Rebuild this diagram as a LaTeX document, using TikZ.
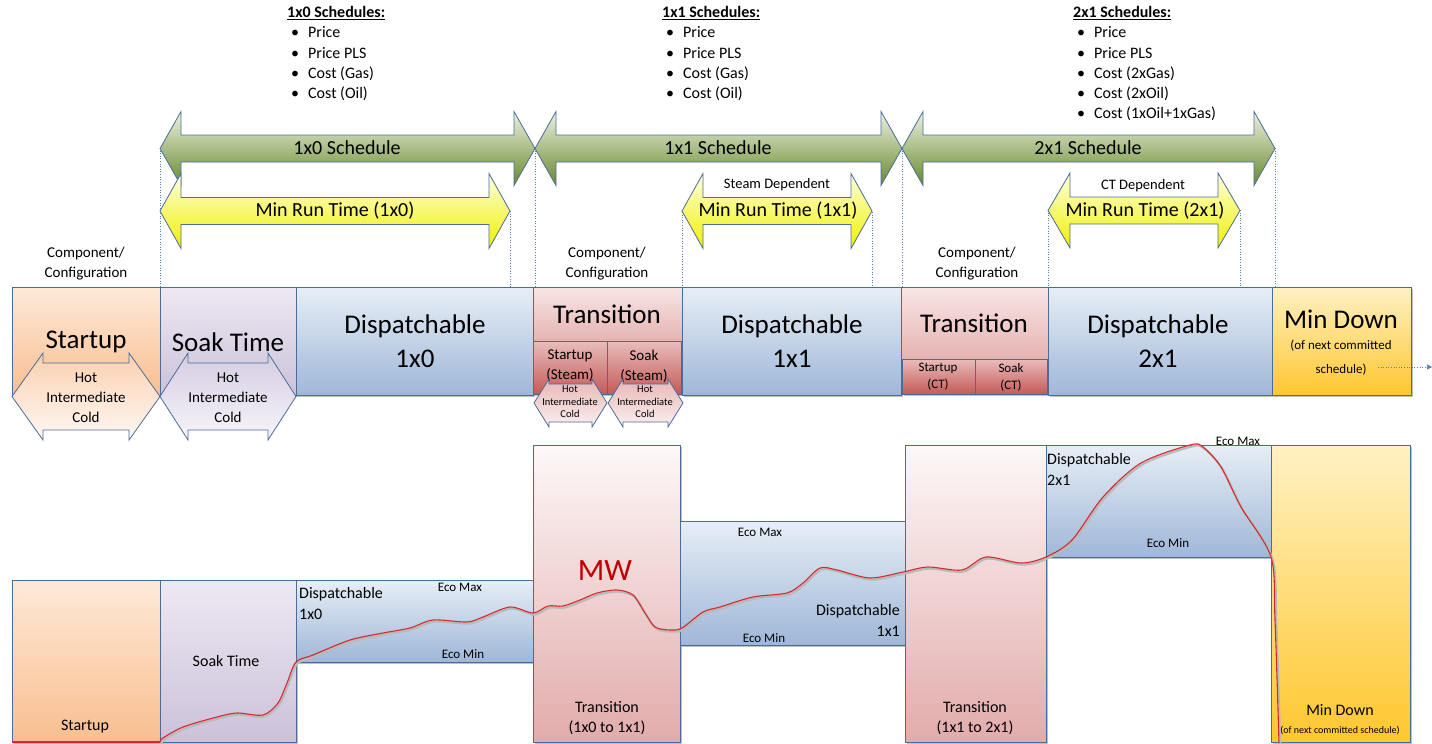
\documentclass[tikz,border=0pt]{standalone}
\usepackage{fontspec}
\setmainfont{Carlito}
\usetikzlibrary{shadows,arrows.meta}
\definecolor{edge}{HTML}{4A6C9B}
\definecolor{guide}{HTML}{4F81BD}
\definecolor{mwred}{HTML}{C00000}
\definecolor{curvered}{HTML}{D42A2A}
\newcommand{\fs}[2]{\fontsize{#1}{#2}\selectfont}
\newcommand{\bx}[6]{\node[box,#6,minimum width={(#4-#2)*1pt},minimum height={(#5-#3)*1pt}] (#1) at ({(#2+#4)/2},{(#3+#5)/2}) {};}
\newcommand{\dbl}[7]{\path[#1] (#2,#5) -- ({#2+#4},{#5-#7}) -- ({#2+#4},{#5-#6}) -- ({#3-#4},{#5-#6}) -- ({#3-#4},{#5-#7}) -- (#3,#5) -- ({#3-#4},{#5+#7}) -- ({#3-#4},{#5+#6}) -- ({#2+#4},{#5+#6}) -- ({#2+#4},{#5+#7}) -- cycle;}
\newcommand{\itm}[1]{\hspace*{4pt}\makebox[17pt][l]{\textbullet}#1}
\tikzset{
  box/.style={draw=edge,line width=0.9pt,inner sep=0pt,outer sep=0pt,
    drop shadow={shadow xshift=1.5pt,shadow yshift=-1.5pt,opacity=0.25,fill=black}},
  orangeF/.style={top color={rgb,255:red,253;green,234;blue,218},bottom color={rgb,255:red,249;green,190;blue,143}},
  lavF/.style={top color={rgb,255:red,237;green,233;blue,242},bottom color={rgb,255:red,204;green,193;blue,218}},
  blueF/.style={top color={rgb,255:red,231;green,238;blue,246},bottom color={rgb,255:red,159;green,183;blue,215}},
  pinkF/.style={top color={rgb,255:red,249;green,230;blue,230},bottom color={rgb,255:red,228;green,179;blue,178}},
  redF/.style={top color={rgb,255:red,233;green,189;blue,188},bottom color={rgb,255:red,196;green,90;blue,87}},
  goldF/.style={top color={rgb,255:red,255;green,241;blue,196},bottom color={rgb,255:red,255;green,199;blue,47}},
  tpinkF/.style={top color={rgb,255:red,253;green,248;blue,248},bottom color={rgb,255:red,226;green,171;blue,171}},
  greenarrow/.style={draw=edge,line width=0.8pt,top color={rgb,255:red,236;green,242;blue,224},bottom color={rgb,255:red,104;green,136;blue,46}},
  yellowarrow/.style={draw=edge,line width=0.8pt,top color={rgb,255:red,255;green,255;blue,224},middle color={rgb,255:red,255;green,255;blue,80},bottom color={rgb,255:red,240;green,240;blue,0}},
  hexorange/.style={draw=edge,line width=0.8pt,top color={rgb,255:red,250;green,208;blue,176},bottom color={rgb,255:red,255;green,248;blue,242}},
  hexlav/.style={draw=edge,line width=0.8pt,top color={rgb,255:red,213;green,204;blue,226},bottom color={rgb,255:red,247;green,245;blue,250}},
  hexpink/.style={draw=edge,line width=0.8pt,top color={rgb,255:red,231;green,183;blue,182},bottom color={rgb,255:red,251;green,240;blue,240}},
  guideline/.style={draw=guide,line width=0.6pt,dotted},
  txt/.style={inner sep=0pt,align=center},
  f/.style 2 args={font=\fs{#1}{#2}},
}
\begin{document}
\begin{tikzpicture}[x=1pt,y=-1pt]
\useasboundingbox (0,0) rectangle (1432,744);

% ---------- schedule lists ----------
\node[txt,f={16}{20.3},anchor=north west,align=left] (l10) at (287,6) {\underline{\textbf{1x0 Schedules:}}\\
\itm{Price}\\ \itm{Price PLS}\\ \itm{Cost (Gas)}\\ \itm{Cost (Oil)}};
\node[txt,f={16}{20.3},anchor=north west,align=left] (l11) at (662,6) {\underline{\textbf{1x1 Schedules:}}\\
\itm{Price}\\ \itm{Price PLS}\\ \itm{Cost (Gas)}\\ \itm{Cost (Oil)}};
\node[txt,f={16}{20.3},anchor=north west,align=left] (l21) at (1073,6) {\underline{\textbf{2x1 Schedules:}}\\
\itm{Price}\\ \itm{Price PLS}\\ \itm{Cost (2xGas)}\\ \itm{Cost (2xOil)}\\ \itm{Cost (1xOil+1xGas)}};

% ---------- dotted guide lines ----------
\foreach \gx/\gy [count=\i] in {160/148,510/211,535/148,682/212,872/212,902/148,1048/210,1240/210,1275/148}{
  \coordinate (gt\i) at (\gx,\gy);
  \coordinate (gb\i) at (\gx,287);
  \draw[guideline] (gt\i) -- (gb\i);
}

% ---------- schedule arrows ----------
\dbl{greenarrow}{160}{535}{21}{148.5}{13.5}{37}
\dbl{greenarrow}{535}{902}{21}{148.5}{13.5}{37}
\dbl{greenarrow}{902}{1275}{21}{148.5}{13.5}{37}
\node[txt,f={20}{24}] (s10) at (347,148) {1x0 Schedule};
\node[txt,f={20}{24}] (s11) at (718,148) {1x1 Schedule};
\node[txt,f={20}{24}] (s21) at (1088,148) {2x1 Schedule};

\dbl{yellowarrow}{160}{510}{21}{211}{13.5}{37.5}
\dbl{yellowarrow}{682}{872}{21}{211}{13.5}{37.5}
\dbl{yellowarrow}{1048}{1240}{22}{210.5}{13.5}{37.5}
\node[txt,f={20}{24}] (m10) at (335,211) {Min Run Time (1x0)};
\node[txt,f={20}{24}] (m11) at (778,211) {Min Run Time (1x1)};
\node[txt,f={20}{24}] (m21) at (1145,211) {Min Run Time (2x1)};
\node[txt,f={14.5}{17}] (sd) at (777,185) {Steam Dependent};
\node[txt,f={14.5}{17}] (ctd) at (1143,186) {CT Dependent};

\node[txt,f={15}{20}] (cc1) at (86,264) {Component/\\Configuration};
\node[txt,f={15}{20}] (cc2) at (607,264) {Component/\\Configuration};
\node[txt,f={15}{20}] (cc3) at (977,264) {Component/\\Configuration};

% ---------- top row boxes ----------
\bx{tsu}{12}{287}{160}{395}{orangeF}
\bx{tsk}{160}{287}{296}{395}{lavF}
\bx{td10}{296}{287}{533}{395}{blueF}
\bx{ttr1}{533}{287}{682}{341}{pinkF}
\bx{ttr1a}{533}{341}{607}{394}{redF}
\bx{ttr1b}{607}{341}{681}{394}{redF}
\bx{td11}{682}{287}{901}{395}{blueF}
\bx{ttr2}{901}{287}{1048}{359}{pinkF}
\bx{ttr2a}{902}{359}{975}{394}{redF}
\bx{ttr2b}{975}{359}{1047}{394}{redF}
\bx{td21}{1048}{287}{1272}{395}{blueF}
\bx{tmd}{1272}{287}{1411}{395}{goldF}

\node[txt,f={27}{32}] (tsuT) at (86,342) {Startup};
\node[txt,f={27}{32}] (tskT) at (228,342) {Soak Time};
\node[txt,f={27}{34}] (td10T) at (415,341) {Dispatchable\\1x0};
\node[txt,f={27}{32}] (ttr1T) at (607,314) {Transition};
\node[txt,f={15}{20}] (ttr1aT) at (570,366) {Startup\\(Steam)};
\node[txt,f={15}{20}] (ttr1bT) at (644,366) {Soak\\(Steam)};
\node[txt,f={27}{34}] (td11T) at (792,341) {Dispatchable\\1x1};
\node[txt,f={27}{32}] (ttr2T) at (974,323) {Transition};
\node[txt,f={13}{17}] (ttr2aT) at (938,377) {Startup\\(CT)};
\node[txt,f={13}{17}] (ttr2bT) at (1011,377) {Soak\\(CT)};
\node[txt,f={27}{34}] (td21T) at (1158,341) {Dispatchable\\2x1};
\node[txt,f={27}{32}] (tmdT) at (1341,319) {Min Down};
\node[txt,f={13}{24}] (tmdS) at (1341,358) {(of next committed\\schedule)};
\coordinate (mdA) at (1378,367);
\coordinate (mdB) at (1432,367);
\draw[guideline,-{Triangle[length=5pt,width=5pt]}] (mdA) -- (mdB);

% ---------- hot / intermediate / cold arrows ----------
\dbl{hexorange}{12}{160}{31}{396.5}{33.5}{43.5}
\dbl{hexlav}{160}{296}{28}{396.5}{33.5}{43.5}
\node[txt,f={15}{20}] (h1) at (86,398) {Hot\\Intermediate\\Cold};
\node[txt,f={15}{20}] (h2) at (228,398) {Hot\\Intermediate\\Cold};
\dbl{hexpink}{534}{607}{15}{403}{19}{24}
\dbl{hexpink}{608}{683}{15}{403}{19}{24}
\node[txt,f={10.5}{12.5}] (h3) at (570,402) {Hot\\Intermediate\\Cold};
\node[txt,f={10.5}{12.5}] (h4) at (645,402) {Hot\\Intermediate\\Cold};

% ---------- bottom chart ----------
\bx{bsu}{12}{580}{160}{742}{orangeF}
\bx{bsk}{160}{580}{296}{742}{lavF}
\bx{bd10}{296}{580}{533}{662}{blueF}
\bx{btr1}{533}{445}{680}{742}{tpinkF}
\bx{bd11}{680}{521}{905}{645}{blueF}
\bx{btr2}{905}{445}{1046}{742}{tpinkF}
\bx{bd21}{1046}{445}{1271}{557}{blueF}
\bx{bmd}{1271}{445}{1410}{742}{goldF}

% MW curve (shadow + red)
\def\mwcurve{(160,742) (163,738) (183,727) (217,717) (237,713) (263,715) (278,703) (287,683) (296,662) (313,655) (350,640) (383,633) (410,628) (433,620) (467,622) (483,617) (510,607) (533,613) (548,606) (563,606) (580,600) (597,593) (617,590) (633,595) (645,613) (655,627) (670,630) (682,628) (703,612) (720,607) (753,597) (787,593) (803,583) (820,568) (837,570) (870,578) (903,572) (928,567) (962,570) (986,557) (1021,563) (1046,557) (1072,540) (1103,497) (1141,463) (1190,445) (1203,447) (1221,467) (1241,507) (1271,557) (1275,620) (1279,743)}
\begin{scope}[shift={(1.2,1.6)}]
\draw[gray!55,line width=2.2pt,line join=round] (12,742) -- (160,742);
\draw[gray!55,line width=2.2pt,line join=round] plot[smooth,tension=0.5] coordinates {\mwcurve};
\end{scope}
\draw[curvered,line width=1.1pt] (12,742) -- (160,742);
\draw[curvered,line width=1.1pt,line join=round] plot[smooth,tension=0.5] coordinates {\mwcurve};

\node[txt,f={16}{20}] (bsuT) at (85,727) {Startup};
\node[txt,f={16}{20}] (bskT) at (226,661) {Soak Time};
\node[txt,f={16}{21},anchor=north west,align=left] (bd10T) at (299,587) {Dispatchable\\1x0};
\node[txt,f={13}{16}] (bd10x) at (460,587) {Eco Max};
\node[txt,f={13}{16}] (bd10n) at (463,654) {Eco Min};
\node[txt,f={31}{36},text=mwred] (mw) at (605,571) {MW};
\node[txt,f={16}{20}] (btr1T) at (607,718) {Transition\\(1x0 to 1x1)};
\node[txt,f={13}{16}] (bd11x) at (760,532) {Eco Max};
\node[txt,f={13}{16}] (bd11n) at (764,638) {Eco Min};
\node[txt,f={16}{21},anchor=east,align=right] (bd11T) at (900,620) {Dispatchable\\1x1};
\node[txt,f={16}{20}] (btr2T) at (975,718) {Transition\\(1x1 to 2x1)};
\node[txt,f={16}{21},anchor=north west,align=left] (bd21T) at (1047,453) {Dispatchable\\2x1};
\node[txt,f={13}{16}] (bd21x) at (1238,441) {Eco Max};
\node[txt,f={13}{16}] (bd21n) at (1168,543) {Eco Min};
\node[txt,f={16}{20}] (bmdT) at (1340,710) {Min Down};
\node[txt,f={10}{12}] (bmdS) at (1340,731) {(of next committed schedule)};
\end{tikzpicture}
\end{document}
